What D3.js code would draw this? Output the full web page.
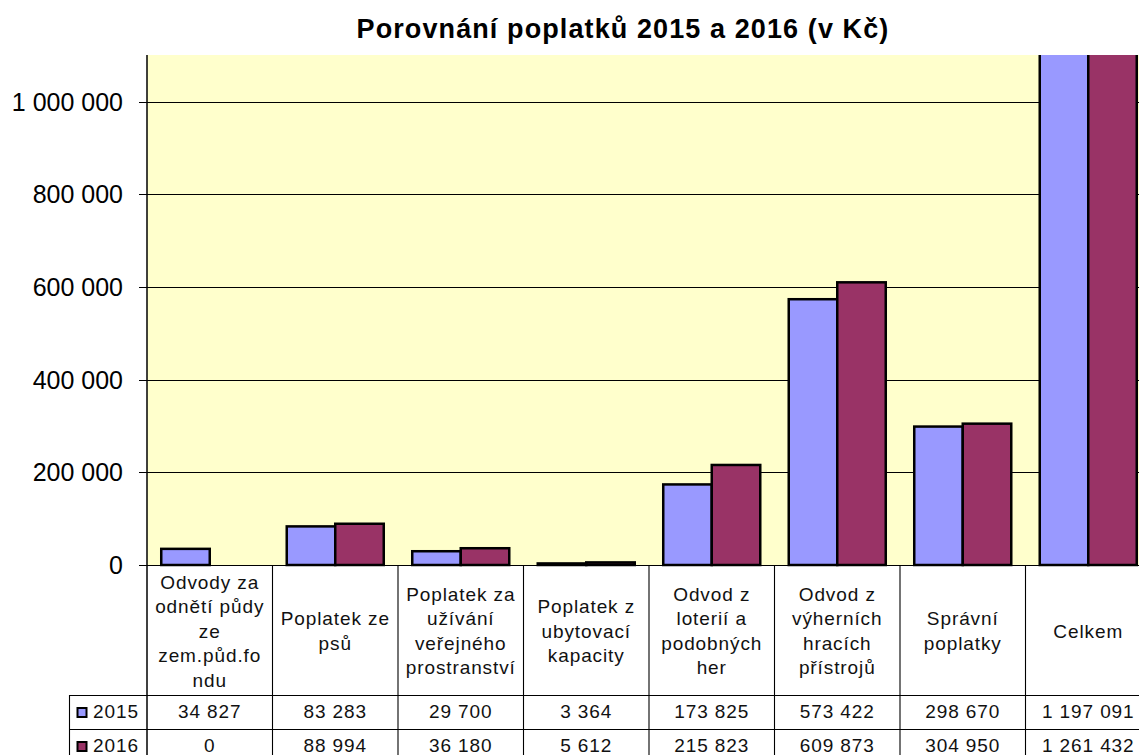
<!DOCTYPE html>
<html>
<head>
<meta charset="utf-8">
<script src="https://cdn.jsdelivr.net/npm/d3@7"></script>
<style>
  html, body { margin: 0; padding: 0; background: #ffffff; }
  svg { display: block; font-family: "Liberation Sans", Arial, sans-serif; }
</style>
</head>
<body>
<svg id="chart" width="1139" height="755"></svg>
<script>
const title = "Porovnání poplatků 2015 a 2016 (v Kč)";
const categories = [
  "Odvody za\nodnětí půdy\nze\nzem.půd.fo\nndu",
  "Poplatek ze\npsů",
  "Poplatek za\nužívání\nveřejného\nprostranství",
  "Poplatek z\nubytovací\nkapacity",
  "Odvod z\nloterií a\npodobných\nher",
  "Odvod z\nvýherních\nhracích\npřístrojů",
  "Správní\npoplatky",
  "Celkem"
];
const seriesNames = ["2015", "2016"];
const values2015 = [34827, 83283, 29700, 3364, 173825, 573422, 298670, 1197091];
const values2016 = [0, 88994, 36180, 5612, 215823, 609873, 304950, 1261432];
const yTicks = [0, 200000, 400000, 600000, 800000, 1000000];
const seriesColors = ["#9999FF", "#993366"];

(function () {
const seriesValues = [values2015, values2016];
const locale = d3.formatLocale({decimal: ",", thousands: "\u00a0", grouping: [3], currency: ["", " Kč"]});
const fmt = locale.format(",d");

const svg = d3.select("#chart");
const pLeft = 147, pRight = 1151, pTop = 55, zeroY = 565, pBottom = 755;
const row1 = 695, row2 = 729;
const tableLeft = 69.5;

const x = d3.scaleBand().domain(d3.range(categories.length)).range([pLeft, pRight])
  .paddingInner(0.227).paddingOuter(0.1135);
const xs = d3.scaleBand().domain(seriesNames).range([0, x.bandwidth()]);
const y = d3.scaleLinear().domain([0, 1100324]).range([zeroY, pTop]);

// plot background
svg.append("rect").attr("x", pLeft).attr("y", pTop).attr("width", 1139 - pLeft).attr("height", zeroY - pTop)
  .attr("fill", "#FFFFCC");

// gridlines
svg.append("g").selectAll("line").data(yTicks).join("line")
  .attr("x1", pLeft - 8).attr("x2", 1139)
  .attr("y1", d => Math.round(y(d)) + 0.5).attr("y2", d => Math.round(y(d)) + 0.5)
  .attr("stroke", "#000").attr("stroke-width", 1);

// y labels
svg.append("g").selectAll("text").data(yTicks).join("text")
  .attr("x", 123).attr("y", d => y(d)).attr("dy", "0.36em")
  .attr("text-anchor", "end").attr("font-size", 25).attr("fill", "#000")
  .text(d => fmt(d));

// bars
svg.append("clipPath").attr("id", "plotclip").append("rect")
  .attr("x", pLeft).attr("y", pTop).attr("width", 1139 - pLeft).attr("height", zeroY - pTop + 2);
const bars = svg.append("g").attr("clip-path", "url(#plotclip)");
seriesNames.forEach((s, si) => {
  const data = seriesValues[si].map((v, i) => ({i, v})).filter(d => d.v > 0);
  bars.append("g").selectAll("rect").data(data).join("rect")
    .attr("x", d => x(d.i) + xs(s))
    .attr("y", d => y(d.v))
    .attr("width", xs.bandwidth())
    .attr("height", d => zeroY - y(d.v))
    .attr("fill", seriesColors[si])
    .attr("stroke", "#000").attr("stroke-width", 2.5);
});

// y axis line
svg.append("line").attr("x1", pLeft).attr("x2", pLeft).attr("y1", pTop).attr("y2", pBottom)
  .attr("stroke", "#000").attr("stroke-width", 1.5);

// table lines
const tbl = svg.append("g").attr("stroke", "#000").attr("stroke-width", 1.1);
const bounds = d3.range(categories.length + 1).map(i => pLeft + i * x.step());
tbl.selectAll("line.v").data(bounds.slice(1)).join("line")
  .attr("x1", d => d).attr("x2", d => d).attr("y1", zeroY).attr("y2", pBottom);
tbl.append("line").attr("x1", tableLeft).attr("x2", tableLeft).attr("y1", row1).attr("y2", pBottom);
[row1, row2].forEach(ry => {
  tbl.append("line").attr("x1", tableLeft).attr("x2", 1139).attr("y1", ry + 0.5).attr("y2", ry + 0.5);
});

// category labels
const catG = svg.append("g").attr("font-size", 19).attr("letter-spacing", "0.9px").attr("fill", "#111")
  .attr("text-anchor", "middle");
categories.forEach((c, i) => {
  const lines = c.split("\n");
  const lh = 24.5;
  const cy = (zeroY + row1) / 2 + 1;
  const t = catG.append("text");
  lines.forEach((ln, k) => {
    t.append("tspan").attr("x", x(i) + x.bandwidth() / 2)
      .attr("y", cy + (k - (lines.length - 1) / 2) * lh).attr("dy", "0.35em").text(ln);
  });
});

// data rows
const rowYs = [row1, row2];
seriesNames.forEach((s, si) => {
  const ry = rowYs[si];
  const g = svg.append("g").attr("font-size", 19).attr("letter-spacing", "0.9px").attr("fill", "#111");
  g.append("rect").attr("x", 77.5).attr("y", ry + 13).attr("width", 9).attr("height", 9)
    .attr("fill", seriesColors[si]).attr("stroke", "#000").attr("stroke-width", 2);
  g.append("text").attr("x", 93).attr("y", ry + 23).text(s);
  g.selectAll("text.v").data(seriesValues[si]).join("text")
    .attr("x", (d, i) => x(i) + x.bandwidth() / 2).attr("y", ry + 23)
    .attr("text-anchor", "middle").text(d => fmt(d));
});

// title
svg.append("text").attr("x", 623).attr("y", 38).attr("text-anchor", "middle")
  .attr("font-size", 27).attr("letter-spacing", "1.1px").attr("font-weight", "bold").attr("fill", "#000").text(title);
})();
</script>
</body>
</html>
